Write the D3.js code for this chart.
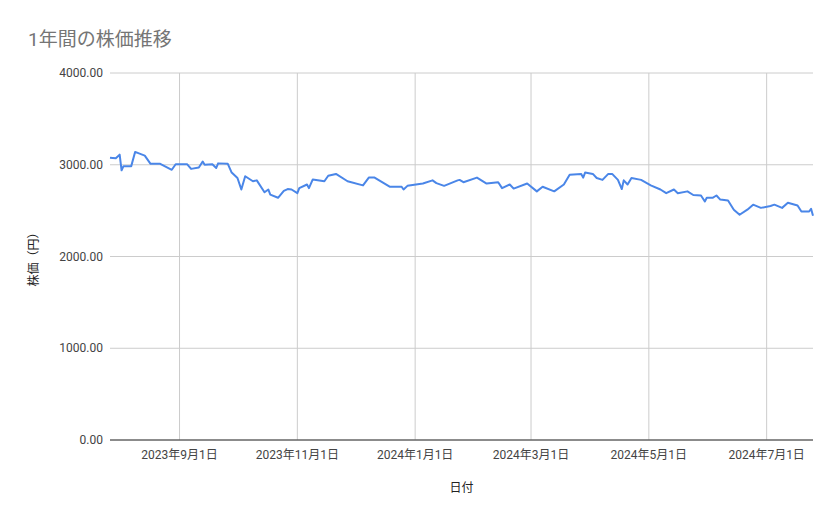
<!DOCTYPE html>
<html lang="ja">
<head>
<meta charset="utf-8">
<script src="https://d3js.org/d3.v7.min.js"></script>
<style>
  html, body { margin: 0; padding: 0; background: #fff; }
  text { font-family: Roboto, "Noto Sans CJK JP", sans-serif; }
  .grid line { stroke: #cccccc; }
</style>
</head>
<body>
<script>
// data
var dates = ["2023-07-27","2023-07-30","2023-08-01","2023-08-02","2023-08-03","2023-08-07","2023-08-09","2023-08-14","2023-08-17","2023-08-22","2023-08-28","2023-08-30","2023-09-05","2023-09-07","2023-09-11","2023-09-13","2023-09-14","2023-09-18","2023-09-20","2023-09-21","2023-09-26","2023-09-28","2023-10-01","2023-10-03","2023-10-05","2023-10-09","2023-10-11","2023-10-15","2023-10-17","2023-10-18","2023-10-22","2023-10-25","2023-10-27","2023-10-29","2023-11-01","2023-11-02","2023-11-06","2023-11-07","2023-11-09","2023-11-15","2023-11-17","2023-11-21","2023-11-27","2023-12-05","2023-12-08","2023-12-11","2023-12-19","2023-12-25","2023-12-26","2023-12-28","2024-01-05","2024-01-10","2024-01-12","2024-01-16","2024-01-23","2024-01-24","2024-01-26","2024-02-02","2024-02-07","2024-02-13","2024-02-15","2024-02-19","2024-02-21","2024-02-28","2024-03-04","2024-03-07","2024-03-13","2024-03-18","2024-03-21","2024-03-27","2024-03-28","2024-03-29","2024-04-02","2024-04-04","2024-04-07","2024-04-10","2024-04-12","2024-04-15","2024-04-17","2024-04-18","2024-04-20","2024-04-22","2024-04-27","2024-05-02","2024-05-07","2024-05-10","2024-05-14","2024-05-16","2024-05-21","2024-05-24","2024-05-28","2024-05-30","2024-05-31","2024-06-03","2024-06-05","2024-06-07","2024-06-11","2024-06-14","2024-06-17","2024-06-21","2024-06-24","2024-06-28","2024-07-03","2024-07-05","2024-07-09","2024-07-12","2024-07-17","2024-07-19","2024-07-23","2024-07-24","2024-07-25"];
var prices = [3076,3070,3110,2940,2985,2985,3140,3100,3010,3010,2945,3005,3005,2955,2970,3035,3000,3005,2965,3015,3010,2915,2855,2730,2875,2820,2830,2700,2730,2675,2640,2715,2735,2730,2690,2745,2785,2745,2840,2820,2880,2900,2820,2775,2860,2860,2760,2760,2730,2770,2795,2830,2800,2770,2830,2835,2810,2860,2795,2810,2745,2785,2740,2795,2710,2760,2710,2785,2890,2900,2860,2915,2900,2855,2835,2900,2900,2835,2735,2830,2785,2855,2835,2775,2730,2690,2730,2690,2710,2670,2665,2600,2640,2640,2665,2620,2610,2510,2455,2510,2565,2530,2550,2565,2530,2585,2555,2490,2490,2520,2445];
var yTicks = [0, 1000, 2000, 3000, 4000];
var xTicks = ["2023-09-01","2023-11-01","2024-01-01","2024-03-01","2024-05-01","2024-07-01"];
var title = "1年間の株価推移";
var xTitle = "日付";
var yTitle = "株価（円）";

var w = 839, h = 519;
var mLeft = 110, mRight = 813, mTop = 73, mBottom = 440;
var parse = d3.timeParse("%Y-%m-%d");

var data = dates.map(function(d, i) { return { date: parse(d), price: prices[i] }; });

var xScale = d3.scaleTime()
    .domain([parse("2023-07-27"), parse("2024-07-25")])
    .range([mLeft, mRight]);
var yScale = d3.scaleLinear().domain([0, 4000]).range([mBottom, mTop]);

var svg = d3.select("body").append("svg").attr("width", w).attr("height", h);

svg.append("text").attr("x", 28).attr("y", 46)
    .attr("font-size", 19).attr("fill", "#757575").text(title);

// horizontal grid
svg.append("g").attr("class", "grid")
    .selectAll("line").data(yTicks).enter().append("line")
    .attr("x1", mLeft).attr("x2", mRight)
    .attr("y1", function(d) { return yScale(d); })
    .attr("y2", function(d) { return yScale(d); });

// vertical grid
svg.append("g").attr("class", "grid")
    .selectAll("line").data(xTicks).enter().append("line")
    .attr("x1", function(d) { return xScale(parse(d)); })
    .attr("x2", function(d) { return xScale(parse(d)); })
    .attr("y1", mTop).attr("y2", mBottom);

svg.append("line").attr("x1", mLeft).attr("x2", mRight)
    .attr("y1", mBottom).attr("y2", mBottom).attr("stroke", "#333");

// tick labels
svg.append("g").selectAll("text").data(yTicks).enter().append("text")
    .attr("x", 103).attr("y", function(d) { return yScale(d) + 4; })
    .attr("text-anchor", "end").attr("font-size", 12).attr("fill", "#444")
    .text(function(d) { return d.toFixed(2); });

var fmt = d3.timeFormat("%Y年%-m月%-d日");
svg.append("g").selectAll("text").data(xTicks).enter().append("text")
    .attr("x", function(d) { return xScale(parse(d)); }).attr("y", 459)
    .attr("text-anchor", "middle").attr("font-size", 12).attr("fill", "#444")
    .text(function(d) { return fmt(parse(d)); });

svg.append("text").attr("x", (mLeft + mRight) / 2).attr("y", 492)
    .attr("text-anchor", "middle").attr("font-size", 12).attr("fill", "#222").text(xTitle);
svg.append("text").attr("transform", "translate(38," + (mTop + mBottom) / 2 + ") rotate(-90)")
    .attr("text-anchor", "middle").attr("font-size", 12).attr("fill", "#222").text(yTitle);

var line = d3.line()
    .x(function(d) { return xScale(d.date); })
    .y(function(d) { return yScale(d.price); });

svg.append("path").datum(data)
    .attr("fill", "none").attr("stroke", "#4a86e8").attr("stroke-width", 2)
    .attr("stroke-linejoin", "round").attr("d", line);
</script>
</body>
</html>
